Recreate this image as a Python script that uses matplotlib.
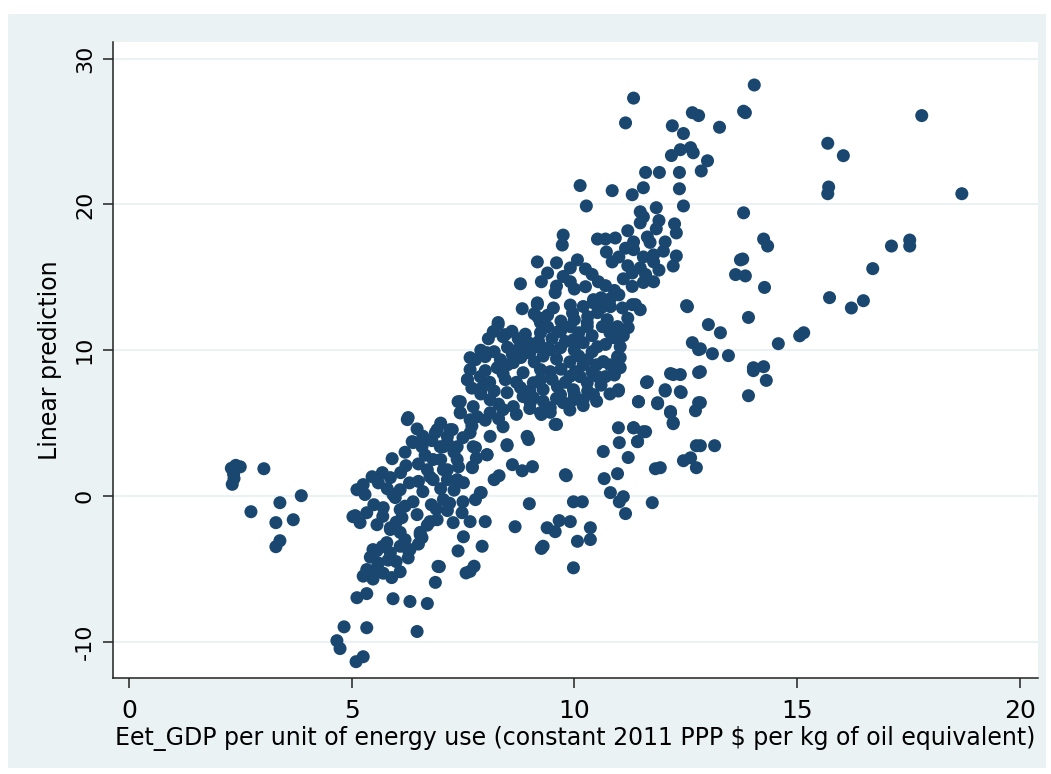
import matplotlib
matplotlib.use("Agg")
import matplotlib.pyplot as plt
from matplotlib.patches import Rectangle

# ---- data (x = GDP per unit of energy use, y = linear prediction) ----
pts_left = [(2.30, 1.90), (2.40, 2.10), (2.50, 2.00), (2.35, 1.50), (2.32, 0.80), (2.36, 1.20),
            (3.03, 1.87), (2.74, -1.08), (3.39, -0.46), (3.87, 0.02), (3.30, -1.83), (3.69, -1.63),
            (3.39, -3.07), (3.30, -3.48)]

pts_bottom = [(4.83, -8.98), (5.34, -9.04), (4.67, -9.93), (4.74, -10.47), (5.10, -11.37), (5.26, -11.03),
              (6.47, -9.30), (5.12, -6.98), (5.34, -6.70), (5.93, -7.05), (6.31, -7.24), (6.70, -7.38),
              (6.88, -5.93)]

pts_lowleft = [(5.34, -5.05), (5.26, -5.50), (5.48, -5.70), (5.71, -5.30), (5.42, -4.20), (5.57, -3.75),
               (5.82, -4.40), (5.79, -3.20), (6.09, -3.45), (6.27, -3.70), (6.27, -4.25), (5.87, -2.30),
               (6.09, -2.50), (5.08, -1.35), (5.19, -1.83), (5.34, -1.15), (5.57, -1.97), (5.71, -0.80),
               (6.09, -0.94), (6.13, -1.49), (6.47, -1.28), (6.54, -2.50), (6.58, -2.86), (6.76, -1.76),
               (6.92, -1.63), (6.79, -0.60), (7.06, -0.25), (6.97, -4.85), (6.09, -5.20), (7.39, -3.77),
               (7.57, -5.28), (7.28, -1.83), (7.48, -1.15), (7.51, -2.80), (5.69, -3.47), (5.87, -3.90),
               (5.48, -3.68), (6.31, -3.68), (5.98, -0.11), (6.38, -0.40), (5.93, 0.09), (5.03, -1.42),
               (5.87, -2.18), (6.54, -2.66), (6.94, -4.83), (7.15, -1.00), (6.20, -0.70),
               (6.00, -4.50), (5.60, -4.60), (5.50, -5.10), (5.90, -5.60), (6.20, -3.00), (6.50, -3.30),
               (6.70, -2.00), (6.00, -1.80), (5.70, -1.40), (5.50, -0.60), (5.30, 0.10), (6.90, -0.90),
               (7.20, -0.50), (7.50, -0.40)]

pts_midleft = [(5.12, 0.43), (5.26, 0.78), (5.46, 1.32), (5.69, 1.60), (5.87, 1.26), (5.91, 2.56),
               (6.22, 2.08), (6.20, 3.00), (6.36, 3.73), (6.27, 5.38), (6.47, 4.60), (6.58, 3.38),
               (6.09, 0.43), (6.83, 1.12), (7.15, 1.80), (6.92, 4.55), (7.21, 4.55), (7.15, 3.66),
               (7.37, 2.50), (7.37, 1.12), (6.83, 2.50), (6.70, 1.80), (6.99, 3.38), (6.25, 5.24),
               (6.88, 4.34), (7.15, 4.07), (6.38, 3.66), (6.76, 1.32), (7.06, 1.80), (7.44, 6.47),
               (7.44, 5.71), (7.60, 7.98), (6.50, 1.00), (6.65, 2.80), (7.00, 0.50), (7.30, 3.00),
               (5.60, 0.90), (5.80, 0.50), (6.30, 0.90), (6.60, 0.30), (7.30, 0.40), (7.00, 2.50),
               (6.50, 2.20), (6.10, 1.60), (6.80, 3.80), (6.60, 4.10), (7.50, 4.00), (7.00, 5.00),
               (7.80, 2.60), (7.40, 2.00)]

pts_lowband = [(10.99, 7.20), (11.62, 7.78), (11.44, 6.47), (11.87, 6.33), (12.04, 7.20), (12.40, 7.10),
               (12.16, 5.71), (12.22, 4.96), (12.79, 6.40), (12.72, 5.85), (12.16, 8.40), (12.38, 8.33),
               (12.79, 8.47), (11.33, 4.68), (11.55, 4.41), (11.42, 3.73), (11.01, 3.66), (10.65, 3.05),
               (11.21, 2.64), (10.97, 1.53), (10.67, 1.19), (10.81, 0.23), (11.10, -0.05), (11.01, -0.40),
               (11.15, -1.21), (11.75, -0.46), (12.74, 3.45), (13.15, 3.45), (12.45, 2.42), (12.61, 2.62),
               (12.74, 1.94), (11.82, 1.87), (11.93, 1.94), (9.82, 1.39), (9.98, -0.40), (10.18, -0.40),
               (10.36, -2.18), (10.36, -2.99), (10.07, -3.11), (9.98, -4.93), (9.91, -1.76), (9.66, -1.69),
               (9.39, -2.18), (9.57, -2.45), (9.30, -3.45), (9.26, -3.60), (8.67, -2.11), (8.99, -0.53),
               (9.06, 2.01), (8.83, 1.73), (8.61, 2.15), (8.31, 1.39), (8.20, 1.12), (7.91, 0.23),
               (7.78, -0.25), (8.00, -1.76), (7.93, -3.45), (7.75, -4.82), (7.66, -5.17), (7.66, -1.76),
               (7.71, 1.94), (8.04, 2.83), (8.49, 3.45), (8.97, 3.87), (8.94, 4.09), (9.60, 4.91),
               (9.26, 5.59), (9.46, 5.74), (7.78, 3.32), (8.11, 4.09), (8.40, 4.75), (7.66, 5.23),
               (7.66, 4.34)]

pts_core = [(8.83, 12.85), (9.17, 13.13), (9.53, 12.90), (9.91, 13.10), (9.96, 12.55), (10.43, 13.25),
            (10.81, 12.99), (11.08, 12.90), (11.30, 13.13), (11.48, 12.78), (12.54, 12.99),
            (8.29, 11.76), (8.18, 11.28), (8.45, 11.07), (8.07, 10.79), (8.74, 10.79), (8.97, 10.52),
            (9.24, 11.89), (9.24, 11.20), (9.64, 11.28), (9.91, 11.62), (10.29, 11.62), (10.63, 11.62),
            (10.74, 12.10), (10.97, 11.62), (11.21, 11.55), (10.88, 10.86), (11.03, 10.24), (11.03, 9.49),
            (11.03, 8.80), (10.52, 10.24), (10.65, 9.22), (10.29, 9.35), (10.20, 10.52), (9.98, 10.72),
            (9.69, 10.17), (9.46, 10.04), (9.17, 10.24), (8.85, 10.04), (8.61, 9.70), (8.34, 9.35),
            (8.04, 9.83), (7.78, 9.35), (7.66, 8.67), (7.60, 7.98), (7.89, 8.19), (7.93, 7.44),
            (8.27, 8.80), (8.45, 7.98), (8.63, 9.15), (8.85, 8.46), (9.24, 8.67), (9.46, 8.53),
            (9.24, 7.98), (9.08, 7.77), (8.79, 7.44), (8.49, 7.09), (8.85, 6.82), (9.08, 6.74),
            (8.63, 6.13), (8.40, 5.92), (8.11, 6.60), (8.11, 5.71), (7.73, 6.13), (7.82, 5.44),
            (7.44, 5.71), (7.39, 6.47), (7.26, 4.55), (7.06, 3.38), (7.37, 3.38), (7.73, 3.38),
            (8.04, 2.83), (7.71, 2.01), (7.51, 0.91), (7.89, 0.23), (7.15, 1.12), (9.57, 4.91),
            (9.80, 1.46), (8.49, 3.52), (9.69, 6.95), (9.98, 7.29), (10.20, 6.60), (10.43, 6.95),
            (9.98, 6.60), (9.75, 6.40), (9.24, 5.71), (9.46, 6.06), (9.01, 6.40), (10.13, 8.19),
            (10.52, 8.19), (10.70, 8.19), (10.02, 8.53), (10.29, 7.77), (9.62, 7.50), (10.99, 7.29),
            (11.44, 6.47), (11.64, 7.84), (12.04, 7.29), (12.22, 8.33), (12.38, 7.16), (11.87, 6.40),
            (12.16, 5.79), (12.22, 5.03), (10.99, 4.68), (11.33, 4.68), (11.60, 4.41), (11.42, 3.73)]

pts_core_fill = [(8.50, 10.20), (8.70, 10.00), (9.00, 9.80), (9.30, 9.60), (9.60, 9.40), (9.90, 9.20),
                 (10.10, 9.60), (10.40, 9.90), (10.70, 10.40), (10.00, 10.00), (9.80, 10.60), (9.50, 10.80),
                 (9.20, 10.60), (8.90, 11.10), (8.60, 11.30), (9.40, 11.60), (9.70, 12.00), (10.00, 12.10),
                 (10.30, 12.30), (10.60, 12.90), (10.10, 11.20), (10.40, 11.00), (10.80, 11.20), (11.20, 12.20),
                 (11.10, 11.00), (10.50, 9.00), (10.80, 9.00), (10.90, 8.30), (10.60, 7.60), (10.30, 7.20),
                 (10.00, 7.00), (9.80, 7.80), (9.50, 8.00), (9.30, 7.30), (9.00, 7.20), (8.70, 7.80),
                 (8.40, 8.40), (8.10, 7.80), (7.90, 7.00), (8.20, 7.20), (8.30, 6.30), (8.00, 5.20),
                 (7.70, 4.80), (8.30, 5.30), (8.70, 5.60), (9.00, 6.00), (9.30, 6.50), (9.60, 6.70),
                 (9.90, 5.90), (10.20, 6.20), (10.50, 6.50), (10.80, 7.00), (10.40, 8.50), (10.20, 9.00),
                 (9.70, 8.70), (9.90, 8.20), (9.10, 9.20), (8.80, 9.50), (8.50, 9.00), (8.20, 9.90),
                 (7.90, 10.00), (8.00, 8.60), (7.70, 7.40), (9.10, 12.50), (9.40, 12.40), (10.20, 13.00),
                 (10.60, 13.60), (11.00, 13.80), (10.90, 14.10), (11.10, 14.90), (10.40, 15.20), (10.00, 14.20),
                 (9.60, 14.40), (9.40, 15.30), (9.60, 16.00), (11.00, 16.40), (11.20, 15.80), (11.60, 15.20),
                 (11.90, 15.50), (12.00, 16.80), (11.90, 18.90), (11.70, 17.40), (11.20, 18.20)]

pts_upper = [(11.33, 27.30), (11.15, 25.60), (12.65, 26.30), (12.79, 26.10), (13.26, 25.30), (12.20, 25.40),
             (12.45, 24.87), (12.18, 23.36), (12.38, 23.76), (12.61, 23.90), (12.67, 23.55), (12.99, 23.00),
             (12.85, 22.30), (11.60, 22.20), (11.91, 22.20), (12.36, 22.20), (11.55, 21.15), (12.36, 21.08),
             (10.13, 21.30), (10.85, 20.95), (11.30, 20.67), (10.27, 19.90), (11.84, 19.78), (12.45, 19.90),
             (11.48, 19.50), (11.55, 19.15), (11.48, 18.74), (11.84, 18.33), (12.25, 18.67), (12.29, 18.05),
             (12.04, 17.43), (11.64, 17.77), (11.33, 17.43), (11.15, 17.00), (11.33, 16.90), (10.52, 17.63),
             (10.70, 17.63), (10.92, 17.70), (9.75, 17.90), (9.73, 17.22), (10.72, 16.74), (10.85, 16.06),
             (11.55, 16.40), (11.78, 16.54), (11.78, 16.06), (12.29, 16.47), (12.22, 15.78), (11.30, 15.30),
             (11.48, 15.65), (11.30, 14.38), (11.55, 14.65), (11.78, 14.70), (9.17, 16.06), (8.79, 14.56),
             (9.26, 14.70), (9.57, 13.95), (9.75, 15.06), (9.91, 15.65), (10.07, 16.20), (10.25, 15.58),
             (9.91, 14.70), (10.25, 14.36), (10.54, 14.70), (10.70, 14.43), (9.17, 13.25), (10.43, 13.47),
             (10.81, 13.54), (11.37, 13.13), (12.52, 13.06), (13.01, 11.76), (13.28, 11.20), (12.65, 10.52),
             (12.79, 10.04), (13.10, 9.76), (13.46, 9.63), (13.62, 15.19), (13.73, 16.20), (9.19, 12.24),
             (8.29, 11.90), (8.40, 10.93), (9.69, 11.28), (10.29, 11.90), (10.52, 12.58), (10.74, 11.62),
             (10.97, 10.93), (10.97, 9.56), (7.66, 9.49), (8.00, 9.56), (9.42, 10.17)]

pts_right = [(14.04, 28.20), (13.84, 26.30), (13.80, 26.40), (17.80, 26.10), (15.69, 24.20), (16.04, 23.35),
             (15.71, 21.20), (15.69, 20.74), (18.70, 20.74), (13.80, 19.43), (14.25, 17.63), (14.34, 17.15),
             (13.78, 16.26), (13.84, 15.10), (14.27, 14.31), (13.91, 12.25), (14.58, 10.45), (15.06, 10.99),
             (15.15, 11.20), (15.73, 13.61), (16.22, 12.90), (16.49, 13.40), (16.70, 15.60), (17.12, 17.15),
             (17.53, 17.56), (17.53, 17.15), (14.02, 8.80), (14.25, 8.87), (12.83, 10.10), (12.83, 8.53),
             (14.02, 8.60), (14.31, 7.93), (13.91, 6.88), (12.83, 6.40), (12.83, 3.45)]

x_ticks = [0, 5, 10, 15, 20]
y_ticks = [-10, 0, 10, 20, 30]
x_title = "Eet_GDP per unit of energy use (constant 2011 PPP $ per kg of oil equivalent)"
y_title = "Linear prediction"

# ---- style ----
NAVY = "#1A476F"
BG = "#EAF2F3"
plt.rcParams['font.family'] = ['DejaVu Sans']

W, H = 1051, 774
fig = plt.figure(figsize=(W / 100, H / 100), dpi=100, facecolor="white")
fig.patches.append(Rectangle((8 / W, 1 - 768 / H), (1046 - 8) / W, (768 - 14) / H,
                             transform=fig.transFigure, facecolor=BG, edgecolor="none", zorder=-10))

ax = fig.add_axes([113 / W, 1 - 678 / H, (1038 - 113) / W, (678 - 42) / H])
ax.set_zorder(5)
ax.set_facecolor("white")

all_pts = (pts_left + pts_bottom + pts_lowleft + pts_midleft + pts_lowband + pts_core
           + pts_core_fill + pts_upper + pts_right)
xs = [p[0] for p in all_pts]
ys = [p[1] for p in all_pts]
ax.scatter(xs, ys, s=88, color=NAVY, edgecolors="none", zorder=3)

ax.set_xlim(-0.357, 20.41)
ax.set_ylim(-12.49, 31.15)
ax.set_xticks(x_ticks)
ax.set_yticks(y_ticks)
ax.set_xticklabels([str(t) for t in x_ticks])
ax.set_yticklabels([str(t) for t in y_ticks], rotation=90, va="center")
ax.grid(axis="y", color=BG, linewidth=1.4, zorder=0)
ax.set_axisbelow(True)

for side in ("top", "right"):
    ax.spines[side].set_visible(False)
for side in ("left", "bottom"):
    ax.spines[side].set_color("#222222")
    ax.spines[side].set_linewidth(1.1)

ax.tick_params(axis="both", colors="#222222", length=7, width=1.1, labelcolor="black")
ax.tick_params(axis="x", pad=8, labelsize=18)
ax.tick_params(axis="y", pad=6, labelsize=16)

ax.set_xlabel(x_title, fontsize=17, labelpad=2)
ax.set_ylabel(y_title, fontsize=17, labelpad=9)

fig.savefig("out.png", dpi=100, facecolor="white")
